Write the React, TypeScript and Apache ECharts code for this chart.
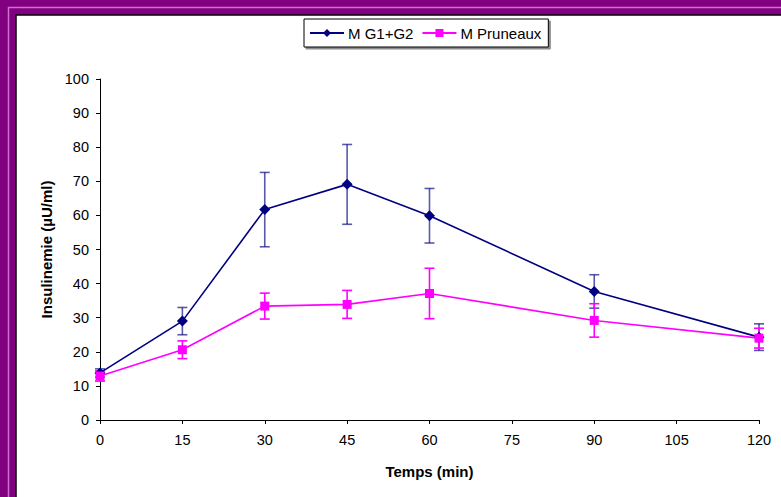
import React, { useEffect, useRef } from "react";
import * as echarts from "echarts";

const times = [0, 15, 30, 45, 60, 90, 120];
const g1g2Mean = [13.8, 29.0, 61.7, 69.1, 59.9, 37.7, 24.3];
const g1g2Err = [1.2, 4.0, 10.9, 11.7, 8.0, 4.9, 3.9];
const pruneauxMean = [12.9, 20.6, 33.4, 33.9, 37.1, 29.2, 24.0];
const pruneauxErr = [1.5, 2.6, 3.8, 4.1, 7.4, 4.9, 2.9];
const xTicks = { min: 0, max: 120, interval: 15 };
const yTicks = { min: 0, max: 100, interval: 10 };
const seriesNames = ["M G1+G2", "M Pruneaux"];

const FONT = "'Liberation Sans', Arial, sans-serif";

function errorSeries(mean: number[], err: number[], color: string, opacity: number) {
  return {
    type: "custom",
    silent: true,
    z: 1,
    data: times.map((t, i) => [t, mean[i], err[i]]),
    renderItem: (params: any, api: any) => {
      const x = api.value(0);
      const y = api.value(1);
      const e = api.value(2);
      const top = api.coord([x, y + e]);
      const bot = api.coord([x, y - e]);
      const c = 5;
      const style = { stroke: color, lineWidth: 1.6, opacity };
      return {
        type: "group",
        children: [
          { type: "line", shape: { x1: top[0], y1: top[1], x2: bot[0], y2: bot[1] }, style },
          { type: "line", shape: { x1: top[0] - c, y1: top[1], x2: top[0] + c, y2: top[1] }, style },
          { type: "line", shape: { x1: bot[0] - c, y1: bot[1], x2: bot[0] + c, y2: bot[1] }, style },
        ],
      };
    },
  };
}

export default function App() {
  const ref = useRef<HTMLDivElement>(null);
  useEffect(() => {
    if (!ref.current) return;
    const chart = echarts.init(ref.current, null, { renderer: "svg" });
    chart.setOption({
      animation: false,
      backgroundColor: "#800080",
      graphic: [
        {
          type: "polyline",
          z: -10,
          shape: { points: [[8.5, 497], [8.5, 7.5], [781, 7.5]] },
          style: { stroke: "#d070d0", lineWidth: 1.5, fill: null },
          silent: true,
        },
        {
          type: "rect",
          z: -10,
          shape: { x: 16, y: 15, width: 770, height: 490 },
          style: { fill: "#ffffff", stroke: "#000000", lineWidth: 1.5 },
          silent: true,
        },
      ],
      legend: {
        left: 304,
        top: 19,
        data: seriesNames,
        orient: "horizontal",
        itemWidth: 34,
        itemHeight: 10,
        itemGap: 8,
        padding: [6, 7, 6, 5],
        borderColor: "#000",
        borderWidth: 1,
        backgroundColor: "#fff",
        shadowColor: "rgba(0,0,0,0.45)",
        shadowOffsetX: 2,
        shadowOffsetY: 2,
        shadowBlur: 0,
        textStyle: { fontFamily: FONT, fontSize: 15, color: "#000", padding: [0, 0, 0, -1], lineHeight: 16 },
      },
      grid: { left: 100, right: 22, top: 79, bottom: 77, containLabel: false },
      xAxis: {
        type: "value",
        min: xTicks.min,
        max: xTicks.max,
        interval: xTicks.interval,
        name: "Temps (min)",
        nameLocation: "middle",
        nameGap: 44,
        nameTextStyle: { fontFamily: FONT, fontSize: 15, fontWeight: "bold", color: "#000" },
        axisLine: { lineStyle: { color: "#000", width: 1 } },
        axisTick: { show: true, inside: false, length: 4, lineStyle: { color: "#000" } },
        axisLabel: { fontFamily: FONT, fontSize: 14.5, color: "#000", margin: 12 },
        splitLine: { show: false },
      },
      yAxis: {
        type: "value",
        min: yTicks.min,
        max: yTicks.max,
        interval: yTicks.interval,
        name: "Insulinemie (µU/ml)",
        nameLocation: "middle",
        nameGap: 46.5,
        nameRotate: 90,
        nameTextStyle: { fontFamily: FONT, fontSize: 15, fontWeight: "bold", color: "#000" },
        axisLine: { show: true, lineStyle: { color: "#000", width: 1 } },
        axisTick: { show: true, inside: false, length: 4, lineStyle: { color: "#000" } },
        axisLabel: { fontFamily: FONT, fontSize: 14.5, color: "#000", margin: 11 },
        splitLine: { show: false },
      },
      series: [
        errorSeries(g1g2Mean, g1g2Err, "#000080", 0.65),
        errorSeries(pruneauxMean, pruneauxErr, "#ff00ff", 1),
        {
          name: seriesNames[0],
          type: "line",
          z: 3,
          data: times.map((t, i) => [t, g1g2Mean[i]]),
          symbol: "diamond",
          symbolSize: 11,
          itemStyle: { color: "#000080" },
          lineStyle: { color: "#000080", width: 1.6 },
        },
        {
          name: seriesNames[1],
          type: "line",
          z: 4,
          data: times.map((t, i) => [t, pruneauxMean[i]]),
          symbol: "rect",
          symbolSize: 9,
          itemStyle: { color: "#ff00ff" },
          lineStyle: { color: "#ff00ff", width: 1.6 },
        },
      ],
    });
    return () => chart.dispose();
  }, []);
  return (
    <div
      ref={ref}
      style={{ position: "fixed", left: 0, top: 0, width: 781, height: 497 }}
    />
  );
}
